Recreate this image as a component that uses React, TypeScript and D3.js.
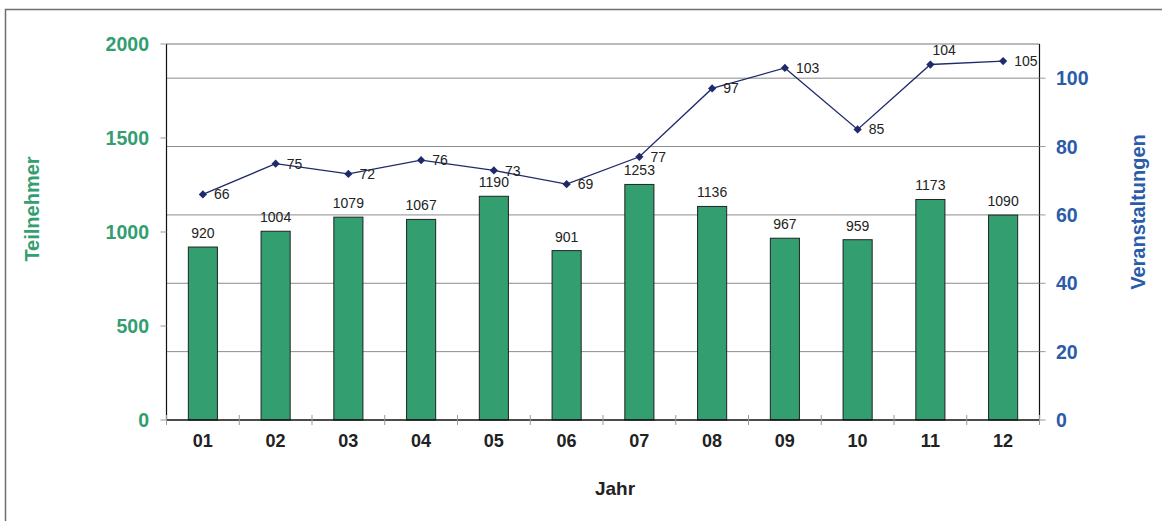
import React from 'react'
import * as d3 from 'd3'

const years = ['01', '02', '03', '04', '05', '06', '07', '08', '09', '10', '11', '12']
const participants = [920, 1004, 1079, 1067, 1190, 901, 1253, 1136, 967, 959, 1173, 1090]
const events = [66, 75, 72, 76, 73, 69, 77, 97, 103, 85, 104, 105]
const leftTicks = [0, 500, 1000, 1500, 2000]
const rightTicks = [0, 20, 40, 60, 80, 100]

const W = 1162
const H = 521
const left = 166.5
const right = 1039.5
const top = 44
const bottom = 420

const GREEN = '#339e70'
const BLUE = '#2a5caa'
const NAVY = '#1f2a6b'
const FONT = '"Liberation Sans", Arial, sans-serif'

const App = () => {
    const x = d3.scaleBand().domain(years).range([left, right]).paddingInner(0).paddingOuter(0)
    const yLeft = d3.scaleLinear().domain([0, 2000]).range([bottom, top])
    const yRight = d3.scaleLinear().domain([0, 110]).range([bottom, top])
    const barW = x.bandwidth() * 0.4
    const cx = (d: string) => (x(d) as number) + x.bandwidth() / 2

    const line = d3.line<number>()
        .x((d, i) => cx(years[i]))
        .y(d => yRight(d))
    // square rotated 45° for the marker
    const diamond = d3.symbol().type(d3.symbolSquare).size(34)

    return (
        <svg width={W} height={H} style={{ position: 'absolute', left: 0, top: 0 }}>
            <rect x={0} y={0} width={W} height={H} fill="#fff" />
            {/* outer frame */}
            <path d={`M5.5,${H} V9.5 H${W}`} fill="none" stroke="#6e6e6e" strokeWidth={1.5} />

            {/* gridlines from right axis */}
            {rightTicks.filter(t => t > 0).map(t => (
                <line key={t} x1={left} x2={right} y1={yRight(t)} y2={yRight(t)} stroke="#8c8c8c" strokeWidth={1} />
            ))}
            <line x1={left} x2={right} y1={top} y2={top} stroke="#777" strokeWidth={1} />

            {/* bars */}
            {participants.map((v, i) => (
                <g key={years[i]}>
                    <rect x={cx(years[i]) - barW / 2} y={yLeft(v)} width={barW} height={bottom - yLeft(v)}
                        fill={GREEN} stroke="#222" strokeWidth={1} />
                    <text x={cx(years[i])} y={yLeft(v) - 9} textAnchor="middle" fontFamily={FONT} fontSize={14} fill="#222">{v}</text>
                </g>
            ))}

            {/* axes */}
            <line x1={left} x2={left} y1={top} y2={bottom} stroke="#111" strokeWidth={1.2} />
            <line x1={right} x2={right} y1={top} y2={bottom} stroke="#111" strokeWidth={1.2} />
            <line x1={left} x2={right} y1={bottom} y2={bottom} stroke="#111" strokeWidth={1.5} />

            {leftTicks.map(t => (
                <g key={t}>
                    <line x1={left - 6} x2={left} y1={yLeft(t)} y2={yLeft(t)} stroke="#999" />
                    <text x={149} y={yLeft(t)} dy="0.36em" textAnchor="end" fontFamily={FONT} fontWeight="bold" fontSize={19.5} fill={GREEN}>{t}</text>
                </g>
            ))}
            {rightTicks.map(t => (
                <g key={t}>
                    <line x1={right} x2={right + 6} y1={yRight(t)} y2={yRight(t)} stroke="#999" />
                    <text x={1056} y={yRight(t)} dy="0.36em" textAnchor="start" fontFamily={FONT} fontWeight="bold" fontSize={19.5} fill={BLUE}>{t}</text>
                </g>
            ))}
            {d3.range(years.length + 1).map(i => {
                const xx = left + i * x.bandwidth()
                return <line key={i} x1={xx} x2={xx} y1={bottom - 5} y2={bottom + 5} stroke="#999" />
            })}
            {years.map(y => (
                <text key={y} x={cx(y)} y={441} dy="0.36em" textAnchor="middle" fontFamily={FONT} fontWeight="bold" fontSize={18} fill="#222">{y}</text>
            ))}

            {/* line series */}
            <path d={line(events) as string} fill="none" stroke={NAVY} strokeWidth={1.3} />
            {events.map((v, i) => {
                // the 104 label sits above its point, as in the original
                const above = i === 10
                return (
                    <g key={i}>
                        <path d={diamond() as string} transform={`translate(${cx(years[i])},${yRight(v)}) rotate(45)`} fill={NAVY} />
                        <text x={cx(years[i]) + (above ? 2 : 11)} y={yRight(v) + (above ? -15 : 0)} dy="0.36em"
                            fontFamily={FONT} fontSize={14} fill="#222">{v}</text>
                    </g>
                )
            })}

            {/* axis titles */}
            <text transform={`translate(39,209) rotate(-90)`} textAnchor="middle" fontFamily={FONT} fontWeight="bold" fontSize={20} fill={GREEN}>Teilnehmer</text>
            <text transform={`translate(1145,212) rotate(-90)`} textAnchor="middle" fontFamily={FONT} fontWeight="bold" fontSize={20} fill={BLUE}>Veranstaltungen</text>
            <text x={615} y={488} dy="0.36em" textAnchor="middle" fontFamily={FONT} fontWeight="bold" fontSize={19} fill="#222">Jahr</text>
        </svg>
    )
}

export default App
